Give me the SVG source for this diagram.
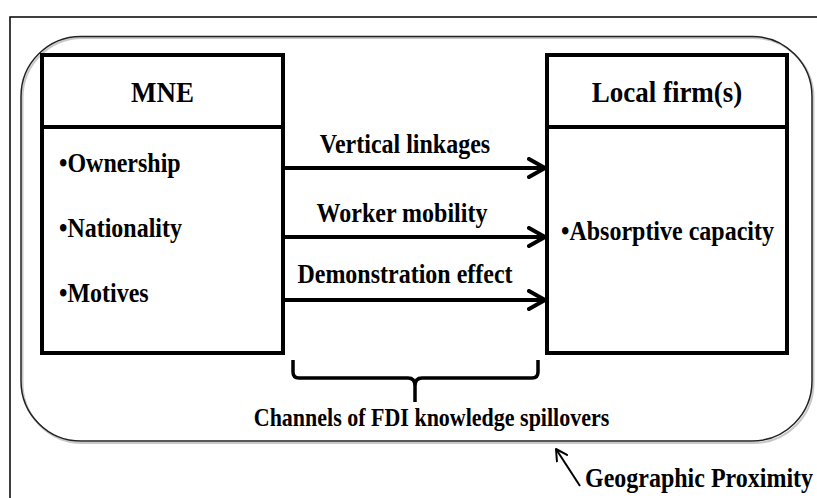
<svg xmlns="http://www.w3.org/2000/svg" width="817" height="498" viewBox="0 0 817 498">
<style>
.t{font-family:"Liberation Serif","Times New Roman",serif;font-weight:bold;fill:#000}
.h{font-size:27px}
.b{font-size:24px}
.c{font-size:22px}
.box{fill:#fff;stroke:#000;stroke-width:4}
.conn{stroke:#000;stroke-width:4;fill:none;stroke-linecap:round}
</style>
<defs>
<marker id="ah" viewBox="0 0 20 22" refX="18" refY="11" markerWidth="20" markerHeight="22" markerUnits="userSpaceOnUse" orient="auto">
<path d="M2,2 L18,11 L2,20" fill="none" stroke="#000" stroke-width="4" stroke-linecap="round" stroke-linejoin="round"/>
</marker>
<marker id="ah2" viewBox="0 0 14 14" refX="12" refY="7" markerWidth="14" markerHeight="14" markerUnits="userSpaceOnUse" orient="auto">
<path d="M1,1 L12,7 L1,13" fill="none" stroke="#000" stroke-width="2" stroke-linecap="round" stroke-linejoin="round"/>
</marker>
</defs>
<rect width="817" height="498" fill="#fff"/>
<g id="frame">
<path d="M10,498 V17 H817" fill="none" stroke="#000" stroke-width="1.5"/>
</g>
<g id="proximity">
<rect x="22.5" y="38" width="791" height="405" rx="60" ry="60" fill="none" stroke="#c8c8c8" stroke-width="2"/>
<rect x="21" y="36.5" width="791" height="404.5" rx="60" ry="60" fill="none" stroke="#222" stroke-width="1.5"/>
</g>
<g id="mne">
<rect class="box" x="42" y="55" width="241" height="298"/>
<line x1="42" y1="127" x2="283" y2="127" stroke="#000" stroke-width="4"/>
<text class="t h" transform="translate(162.5,102) scale(1,1.12)" text-anchor="middle">MNE</text>
<text class="t b" transform="translate(59,172) scale(1,1.12)">•Ownership</text>
<text class="t b" transform="translate(59,237) scale(1,1.12)">•Nationality</text>
<text class="t b" transform="translate(59,302) scale(1,1.12)">•Motives</text>
</g>
<g id="local">
<rect class="box" x="547" y="55" width="240" height="298"/>
<line x1="547" y1="127" x2="787" y2="127" stroke="#000" stroke-width="4"/>
<text class="t h" transform="translate(667,102) scale(1,1.12)" text-anchor="middle">Local firm(s)</text>
<text class="t b" transform="translate(561,240) scale(1,1.12)">•Absorptive capacity</text>
</g>
<g id="connectors">
<line class="conn" x1="283" y1="168" x2="545" y2="168" marker-end="url(#ah)"/>
<line class="conn" x1="283" y1="237" x2="545" y2="237" marker-end="url(#ah)"/>
<line class="conn" x1="283" y1="300" x2="545" y2="300" marker-end="url(#ah)"/>
<text class="t b" transform="translate(405,153) scale(1,1.12)" text-anchor="middle">Vertical linkages</text>
<text class="t b" transform="translate(402,222) scale(1,1.12)" text-anchor="middle">Worker mobility</text>
<text class="t b" transform="translate(405,283) scale(1,1.12)" text-anchor="middle">Demonstration effect</text>
<path d="M293,360 V372 Q293,378 299,378 H408 Q415,378 415,386 V402 M415,402 V386 Q415,378 422,378 H532 Q538,378 538,372 V360" fill="none" stroke="#000" stroke-width="3.5" stroke-linejoin="round"/>
<line x1="580" y1="486" x2="556" y2="449" stroke="#000" stroke-width="2" marker-end="url(#ah2)"/>
</g>
<g id="labels">
<text class="t c" transform="translate(431.5,426) scale(1,1.12)" text-anchor="middle">Channels of FDI knowledge spillovers</text>
<text class="t b" transform="translate(585,487) scale(1,1.12)">Geographic Proximity</text>
</g>
</svg>
